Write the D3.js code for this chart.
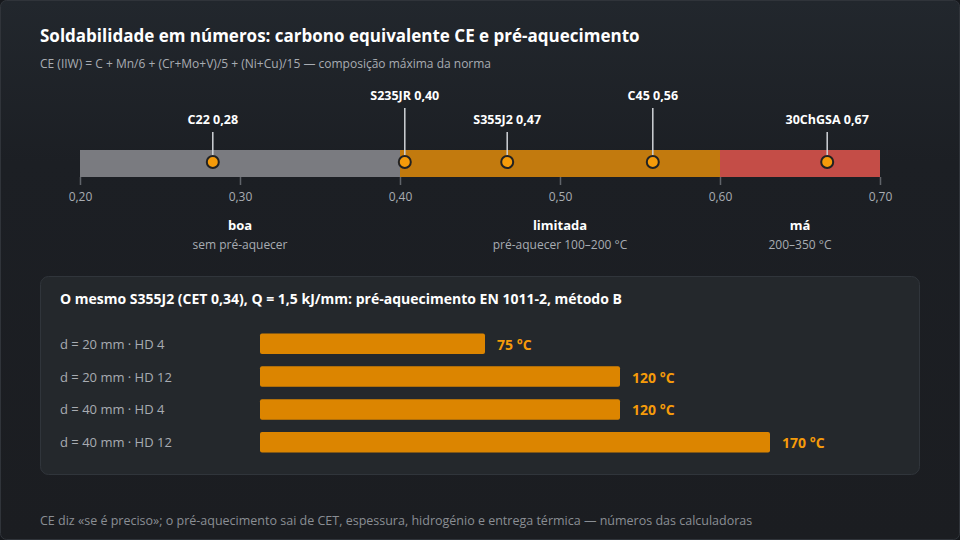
<!DOCTYPE html><html><head><meta charset="utf-8"><script src="https://cdn.jsdelivr.net/npm/d3@7"></script>
<style>body{margin:0;background:#16181c}svg{display:block;font-family:"Open Sans",sans-serif}</style></head><body><svg id="c" width="960" height="540"></svg><script>
const zoneNames=["boa","limitada","má"],zoneSubs=["sem pré-aquecer","pré-aquecer 100–200 °C","200–350 °C"];
const zoneStarts=[0.20,0.40,0.60],zoneEnds=[0.40,0.60,0.70];
const steels=["C22","S235JR","S355J2","C45","30ChGSA"],ceValues=[0.283,0.403,0.467,0.558,0.667];
const ticks=[0.20,0.30,0.40,0.50,0.60,0.70];
const cases=["d = 20 mm · HD 4","d = 20 mm · HD 12","d = 40 mm · HD 4","d = 40 mm · HD 12"],preheat=[75,120,120,170];
const svg=d3.select("#c");
const defs=svg.append("defs");const g=defs.append("linearGradient").attr("id","bg").attr("x1",0).attr("y1",0).attr("x2",0).attr("y2",1);
g.append("stop").attr("offset",0).attr("stop-color","#22272d");g.append("stop").attr("offset",0.3).attr("stop-color","#1c1f24");g.append("stop").attr("offset",1).attr("stop-color","#1b1d21");
svg.append("rect").attr("x",0.5).attr("y",0.5).attr("width",959).attr("height",539).attr("rx",6).attr("fill","url(#bg)").attr("stroke","#30343a");
svg.append("text").attr("x",40).attr("y",42).attr("fill","#fff").attr("font-size",17).attr("font-weight",700).text("Soldabilidade em números: carbono equivalente CE e pré-aquecimento");
svg.append("text").attr("x",40).attr("y",68).attr("fill","#a8acb2").attr("font-size",12).text("CE (IIW) = C + Mn/6 + (Cr+Mo+V)/5 + (Ni+Cu)/15 — composição máxima da norma");
const x=d3.scaleLinear().domain([0.2,0.7]).range([80,880]);
const colors=["#7a7b80","#c27a0e","#c44d47"];
svg.selectAll(".z").data(zoneNames).join("rect").attr("x",(d,i)=>x(zoneStarts[i])).attr("width",(d,i)=>x(zoneEnds[i])-x(zoneStarts[i])).attr("y",150).attr("height",27).attr("fill",(d,i)=>colors[i]);
const ax=svg.append("g").attr("transform","translate(0,177)").call(d3.axisBottom(x).tickValues(ticks).tickSize(8).tickFormat(d=>d3.format(".2f")(d).replace(".",",")));
ax.select(".domain").remove();ax.selectAll("line").attr("stroke","#60646a").attr("stroke-width",1.5);
ax.selectAll("text").attr("fill","#a8acb2").attr("font-size",12).attr("font-family","Open Sans").attr("dy","1.1em");
zoneNames.forEach((n,i)=>{const cx=(x(zoneStarts[i])+x(zoneEnds[i]))/2;
svg.append("text").attr("x",cx).attr("y",230).attr("text-anchor","middle").attr("fill","#fff").attr("font-weight",700).attr("font-size",13).text(n);
svg.append("text").attr("x",cx).attr("y",249).attr("text-anchor","middle").attr("fill","#a8acb2").attr("font-size",12).text(zoneSubs[i]);});
steels.forEach((s,i)=>{const cx=x(ceValues[i]);const high=i%2==1;const ly=high?95:119;
svg.append("line").attr("x1",cx).attr("x2",cx).attr("y1",ly+13).attr("y2",158).attr("stroke","#d0d3d8").attr("stroke-width",1.5);
svg.append("text").attr("x",cx).attr("y",ly+5).attr("text-anchor","middle").attr("fill","#fff").attr("font-weight",700).attr("font-size",12.5).text(s+" "+d3.format(".2f")(ceValues[i]).replace(".",","));
svg.append("circle").attr("cx",cx).attr("cy",162).attr("r",6).attr("fill","#f59b0a").attr("stroke","#222","stroke-width").attr("stroke-width",2);});
svg.append("rect").attr("x",40.5).attr("y",276.5).attr("width",879).attr("height",198).attr("rx",8).attr("fill","#24282c").attr("stroke","#30353b");
svg.append("text").attr("x",60).attr("y",304).attr("fill","#fff").attr("font-weight",700).attr("font-size",14).text("O mesmo S355J2 (CET 0,34), Q = 1,5 kJ/mm: pré-aquecimento EN 1011-2, método B");
const bx=d3.scaleLinear().domain([0,200]).range([260,860]);
const by=d3.scaleBand().domain(cases).range([321,465]).padding(0.38);
cases.forEach((c,i)=>{const y=by(c),h=by.bandwidth(),cy=y+h/2;
svg.append("text").attr("x",60).attr("y",cy+5).attr("fill","#a8acb2").attr("font-size",13).text(c);
svg.append("rect").attr("x",bx(0)).attr("y",y).attr("width",bx(preheat[i])-bx(0)).attr("height",h).attr("rx",2).attr("fill","#dc8500");
svg.append("text").attr("x",bx(preheat[i])+12).attr("y",cy+6).attr("fill","#f59b0a").attr("font-weight",700).attr("font-size",14).text(preheat[i]+" °C");});
svg.append("text").attr("x",40).attr("y",525).attr("fill","#8a8e94").attr("font-size",12.5).text("CE diz «se é preciso»; o pré-aquecimento sai de CET, espessura, hidrogénio e entrega térmica — números das calculadoras");
</script></body></html>
